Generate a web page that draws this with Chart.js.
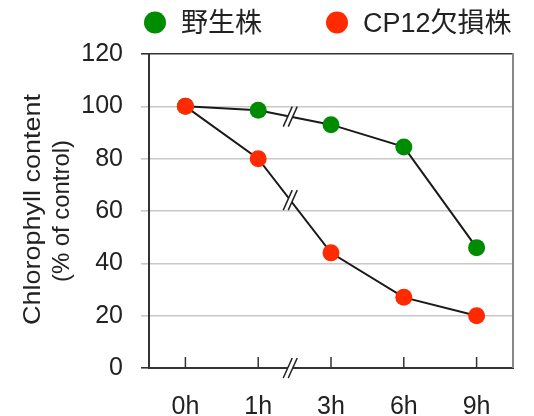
<!DOCTYPE html>
<html><head><meta charset="utf-8">
<script src="https://cdn.jsdelivr.net/npm/chart.js@4"></script>
<style>html,body{margin:0;padding:0;background:#fff;}</style>
</head><body>
<canvas id="c" width="534" height="416"></canvas>
<script>
const categories = ['0h', '1h', '3h', '6h', '9h'];
const wildType = [100, 98.5, 93, 84.5, 46];
const cp12Mutant = [100, 80, 44, 27, 20];
const seriesNames = ['野生株', 'CP12欠損株'];
const yTicks = [0, 20, 40, 60, 80, 100, 120];
const yTitle = ['Chlorophyll content', '(% of control)'];

const GREEN = '#008c00', RED = '#ff2a00', AXIS = '#333333', GRID = '#c8c8c8', TXT = '#222222';
const FONT = "'Liberation Sans', Arial, 'Noto Sans CJK JP', sans-serif";
const BREAK_POS = 1.44;

function drawBreak(ctx, x, y) {
  const dx = 4.5, dy = 10, sep = 5, h = 4;
  ctx.save();
  ctx.fillStyle = '#fff';
  const k = dx / dy;
  ctx.beginPath();
  ctx.moveTo(x - sep / 2 - h * k, y + h);
  ctx.lineTo(x - sep / 2 + h * k, y - h);
  ctx.lineTo(x + sep / 2 + h * k, y - h);
  ctx.lineTo(x + sep / 2 - h * k, y + h);
  ctx.closePath();
  ctx.fill();
  ctx.strokeStyle = '#222';
  ctx.lineWidth = 1.5;
  for (const o of [-sep / 2, sep / 2]) {
    ctx.beginPath();
    ctx.moveTo(x + o - dx, y + dy);
    ctx.lineTo(x + o + dx, y - dy);
    ctx.stroke();
  }
  ctx.restore();
}

const decor = {
  id: 'decor',
  afterDatasetsDraw(chart) {
    const ctx = chart.ctx, a = chart.chartArea;
    const xs = chart.scales.x;
    ctx.save();
    // right frame
    ctx.strokeStyle = '#888';
    ctx.lineWidth = 2;
    ctx.beginPath();
    ctx.moveTo(a.right, a.top - 1);
    ctx.lineTo(a.right, a.bottom);
    ctx.stroke();
    // inward x ticks
    ctx.strokeStyle = AXIS;
    ctx.lineWidth = 1.5;
    categories.forEach((c, i) => {
      const px = xs.getPixelForValue(i);
      ctx.beginPath();
      ctx.moveTo(px, a.bottom - 11);
      ctx.lineTo(px, a.bottom);
      ctx.stroke();
    });
    ctx.restore();
    // break marks
    const bx = xs.getPixelForValue(BREAK_POS);
    drawBreak(ctx, bx, a.bottom);
    chart.data.datasets.forEach((ds, di) => {
      const meta = chart.getDatasetMeta(di);
      const p1 = meta.data[1], p2 = meta.data[2];
      const t = (bx - p1.x) / (p2.x - p1.x);
      drawBreak(ctx, bx, p1.y + t * (p2.y - p1.y));
    });
  },
  afterDraw(chart) {
    const ctx = chart.ctx;
    ctx.save();
    // legend
    const legendX = [155, 337];
    const fills = [GREEN, RED];
    ctx.font = `27px ${FONT}`;
    ctx.textAlign = 'left';
    ctx.textBaseline = 'middle';
    seriesNames.forEach((n, i) => {
      ctx.fillStyle = fills[i];
      ctx.beginPath();
      ctx.arc(legendX[i], 22.5, 11, 0, Math.PI * 2);
      ctx.fill();
      ctx.fillStyle = TXT;
      ctx.fillText(n, legendX[i] + 26, 24.5);
    });
    // y title
    ctx.font = `24px ${FONT}`;
    ctx.textAlign = 'center';
    ctx.fillStyle = TXT;
    const targets = [[33, 209.5, 231], [62, 211, 142]];
    yTitle.forEach((line, i) => {
      const [cx, cy, len] = targets[i];
      const w = ctx.measureText(line).width;
      ctx.save();
      ctx.translate(cx, cy);
      ctx.rotate(-Math.PI / 2);
      ctx.scale(len / w, 1);
      ctx.fillText(line, 0, 0);
      ctx.restore();
    });
    ctx.restore();
  }
};

const pointCommon = { borderColor: '#1a1a1a', borderWidth: 2, pointRadius: 8.5, pointHoverRadius: 8.5, pointBorderWidth: 0, tension: 0, fill: false };

new Chart(document.getElementById('c'), {
  type: 'line',
  data: {
    labels: categories,
    datasets: [
      Object.assign({ label: seriesNames[0], data: wildType, pointBackgroundColor: GREEN, pointBorderColor: GREEN, order: 1 }, pointCommon),
      Object.assign({ label: seriesNames[1], data: cp12Mutant, pointBackgroundColor: RED, pointBorderColor: RED, order: 0 }, pointCommon)
    ]
  },
  options: {
    responsive: false,
    animation: false,
    devicePixelRatio: 1,
    layout: { padding: { top: 54, right: 21, bottom: 0, left: 0 } },
    plugins: { legend: { display: false }, tooltip: { enabled: false } },
    scales: {
      x: {
        offset: true,
        grid: { display: false, drawTicks: false },
        border: { display: true, color: AXIS, width: 2 },
        ticks: { padding: 24, color: TXT, font: { family: FONT, size: 25 } },
        afterFit(s) { s.height = 48; }
      },
      y: {
        min: 0, max: 120,
        afterBuildTicks(s) { s.ticks = yTicks.map(v => ({ value: v })); },
        grid: {
          color(c) { const v = c.tick && c.tick.value; return (v === 0 || v === 120) ? AXIS : GRID; },
          lineWidth: 1.6, tickLength: 8, drawTicks: true
        },
        border: { display: true, color: AXIS, width: 2 },
        ticks: { padding: 18, color: TXT, font: { family: FONT, size: 25 } },
        afterFit(s) { s.width = 149; }
      }
    }
  },
  plugins: [decor]
});
</script>
</body></html>
